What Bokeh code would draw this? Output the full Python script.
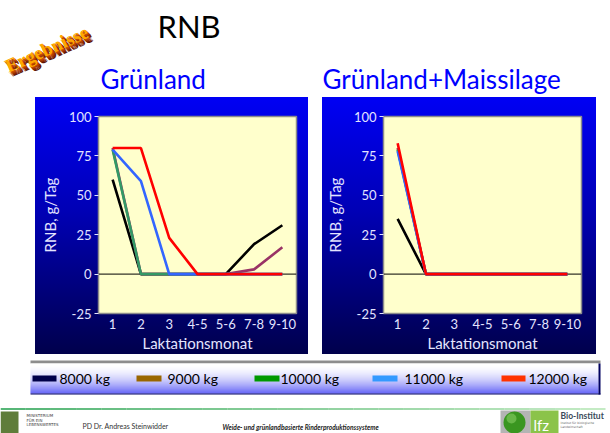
from bokeh.plotting import figure
from bokeh.models import Range1d, FactorRange, Span, Label, FixedTicker, Spacer
from bokeh.layouts import column, row
from bokeh.embed import file_html
from bokeh.resources import INLINE

# ---------------- data ----------------
months = ["1", "2", "3", "4-5", "5-6", "7-8", "9-10"]
series_names = ["8000 kg", "9000 kg", "10000 kg", "11000 kg", "12000 kg"]

gruenland_8000 = [60, 0, 0, 0, 0, 19, 31]
gruenland_9000 = [80, 0, 0, 0, 0, 3, 17]
gruenland_10000 = [79, 0, 0, 0, 0, 0, 0]
gruenland_11000 = [79, 59, 0, 0, 0, 0, 0]
gruenland_12000 = [80, 80, 23, 0, 0, 0, 0]

mais_8000 = [35, 0, 0, 0, 0, 0, 0]
mais_9000 = [80, 0, 0, 0, 0, 0, 0]
mais_10000 = [79, 0, 0, 0, 0, 0, 0]
mais_11000 = [78, 0, 0, 0, 0, 0, 0]
mais_12000 = [83, 0, 0, 0, 0, 0, 0]

y_ticks = [-25, 0, 25, 50, 75, 100]
y_tick_labels = ["-25", "0", "25", "50", "75", "100"]

# ---------------- styles ----------------
line_colors = ["#000000", "#993366", "#339966", "#3366ff", "#ff0000"]
legend_colors = ["#00004a", "#996600", "#009900", "#3399ff", "#ff3300"]
AX_TEXT = "#e4e4ff"
FONT = "Lato"


def make_chart(series, width, mb_left, mb_right):
    p = figure(width=width, height=257,
               x_range=FactorRange(*months, range_padding=0),
               y_range=Range1d(-25, 100),
               output_backend="svg", toolbar_location=None,
               min_border_left=mb_left, min_border_right=mb_right,
               min_border_top=19, min_border_bottom=41)
    p.border_fill_color = None
    p.styles = {"background": "linear-gradient(to bottom, #0000f4 0%, #0000b4 45%, #000068 85%, #00004c 100%)"}
    p.background_fill_color = "#ffffcc"
    p.outline_line_color = "#8c8c8c"
    p.outline_line_width = 1.5
    p.xgrid.grid_line_color = None
    p.ygrid.grid_line_color = None

    p.add_layout(Span(location=0, dimension="width", line_color="black",
                      line_width=1, level="underlay"))
    for vals, col in zip(series, line_colors):
        p.line(months, vals, line_color=col, line_width=2.6)

    p.yaxis.ticker = FixedTicker(ticks=y_ticks)
    p.yaxis.major_label_overrides = dict(zip(y_ticks, y_tick_labels))
    for ax in (p.xaxis[0], p.yaxis[0]):
        ax.axis_line_color = None
        ax.minor_tick_line_color = None
        ax.major_label_text_color = AX_TEXT
        ax.major_label_text_font = FONT
        ax.major_label_text_font_size = "13px"
        ax.axis_label_text_color = AX_TEXT
        ax.axis_label_text_font = FONT
        ax.axis_label_text_font_size = "15px"
        ax.axis_label_text_font_style = "normal"
    p.xaxis.major_tick_line_color = None
    p.xaxis.major_tick_out = 0
    p.xaxis.major_label_standoff = 5
    p.xaxis.axis_label = "Laktationsmonat"
    p.xaxis.axis_label_standoff = 2
    p.yaxis.major_tick_line_color = AX_TEXT
    p.yaxis.major_tick_out = 4
    p.yaxis.major_tick_in = 0
    p.yaxis.major_label_standoff = 3
    p.yaxis.axis_label = "RNB, g/Tag"
    p.yaxis.axis_label_standoff = 7
    return p


left = make_chart([gruenland_8000, gruenland_9000, gruenland_10000,
                   gruenland_11000, gruenland_12000], 273, 63, 12)
right = make_chart([mais_8000, mais_9000, mais_10000, mais_11000, mais_12000],
                   274, 61, 15)


def blank(h):
    f = figure(width=610, height=h, x_range=Range1d(0, 610), y_range=Range1d(h, 0),
               output_backend="svg", toolbar_location=None,
               min_border=0, min_border_left=0, min_border_right=0,
               min_border_top=0, min_border_bottom=0)
    f.axis.visible = False
    f.grid.visible = False
    f.outline_line_color = None
    f.border_fill_color = "white"
    f.background_fill_color = "white"
    return f


# ---------------- header ----------------
head = blank(97)
head.add_layout(Label(x=157, y=25, text="RNB", text_font=FONT, text_font_size="31px",
                      text_color="black", text_baseline="middle"))
head.add_layout(Label(x=100, y=78, text="Grünland", text_font=FONT, text_font_size="26px",
                      text_color="#0000ff", text_baseline="middle"))
head.add_layout(Label(x=322, y=78, text="Grünland+Maissilage", text_font=FONT,
                      text_font_size="26px", text_color="#0000ff", text_baseline="middle"))
shadow = ["#5a1200", "#7a2000", "#963000", "#b04000", "#c85000"]
for i, c in enumerate(shadow):
    off = (len(shadow) - i) * 0.8
    head.add_layout(Label(x=10 + off, y=76 + off, text="Ergebnisse", angle=24, angle_units="deg",
                          text_font="Liberation Sans Narrow", text_font_style="bold",
                          text_font_size="19px", text_color=c))
head.add_layout(Label(x=10, y=76, text="Ergebnisse", angle=24, angle_units="deg",
                      text_font="Liberation Sans Narrow", text_font_style="bold",
                      text_font_size="19px", text_color="#ffa800"))

# ---------------- legend bar ----------------
leg = blank(41)
leg.quad(left=30, right=600, top=6, bottom=9, fill_color="#8c8c8c", line_color=None)
n = 30
for k in range(n):
    t = (k / (n - 1)) ** 1.8
    r = int(255 + (58 - 255) * t)
    g = int(255 + (58 - 255) * t)
    b = int(255 + (245 - 255) * t)
    leg.quad(left=30, right=598, top=9 + k, bottom=10 + k,
             fill_color="#%02x%02x%02x" % (r, g, b), line_color=None)
leg.quad(left=30, right=600, top=39, bottom=40, fill_color="#000060", line_color=None)
leg.quad(left=598, right=600, top=9, bottom=40, fill_color="#000060", line_color=None)
sw_x0 = [32, 136, 254, 372, 501]
sw_x1 = [56, 161, 279, 397, 525]
txt_x = [59, 167, 280, 404, 528]
leg.segment(x0=sw_x0, y0=[24] * 5, x1=sw_x1, y1=[24] * 5, line_color=legend_colors,
            line_width=6)
for name, tx in zip(series_names, txt_x):
    leg.add_layout(Label(x=tx, y=24, text=name, text_font=FONT, text_font_size="14px",
                         text_color="black", text_baseline="middle"))

# ---------------- footer ----------------
foot = blank(38)
m = 24
for k in range(m):
    t = k / (m - 1)
    r = int(0x1f + (0xb0 - 0x1f) * t)
    g = int(0x9e + (0xe4 - 0x9e) * t)
    b = int(0x4a + (0xb0 - 0x4a) * t)
    foot.segment(x0=k * 605 / m, y0=13.5, x1=(k + 1) * 605 / m, y1=13.5,
                 line_color="#%02x%02x%02x" % (r, g, b), line_width=1.6)
foot.quad(left=0, right=18, top=16, bottom=38, fill_color="#5f7d3a", line_color=None)
for i, s in enumerate(["MINISTERIUM", "FÜR EIN", "LEBENSWERTES"]):
    foot.add_layout(Label(x=26, y=20 + i * 4.5, text=s, text_font="DejaVu Sans",
                          text_font_size="4px", text_color="#444444", text_baseline="middle"))
foot.add_layout(Label(x=82, y=30, text="PD Dr. Andreas Steinwidder", text_font=FONT,
                      text_font_size="7px", text_color="#333333", text_baseline="middle"))
foot.add_layout(Label(x=222, y=31, text="Weide- und grünlandbasierte Rinderproduktionssysteme",
                      text_font=FONT, text_font_size="6.6px", text_font_style="bold italic",
                      text_color="#222222", text_baseline="middle"))
foot.quad(left=500, right=530, top=15, bottom=38, fill_color="#b4b4b4", line_color=None)
foot.circle(x=[514], y=[27], radius=11, fill_color="#3a9620", line_color=None)
foot.circle(x=[511], y=[23], radius=5, fill_color="#8ed36a", fill_alpha=0.55, line_color=None)
foot.quad(left=530, right=558, top=15, bottom=38, fill_color="#8bc34a", line_color=None)
foot.add_layout(Label(x=533, y=29, text="lfz", text_font=FONT, text_font_size="15px",
                      text_color="white", text_baseline="middle"))
foot.add_layout(Label(x=560, y=20, text="Bio-Institut", text_font=FONT, text_font_style="bold",
                      text_font_size="8.5px", text_color="#3a4a5a", text_baseline="middle"))
for i, s in enumerate(["Institut für biologische", "Landwirtschaft"]):
    foot.add_layout(Label(x=560, y=27 + i * 4, text=s, text_font="DejaVu Sans",
                          text_font_size="3px", text_color="#666666", text_baseline="middle"))

charts = row(Spacer(width=35, height=257), left, Spacer(width=14, height=257), right,
             Spacer(width=14, height=257))
page = column(head, charts, leg, foot)

open("out.html", "w").write(file_html(page, INLINE))
